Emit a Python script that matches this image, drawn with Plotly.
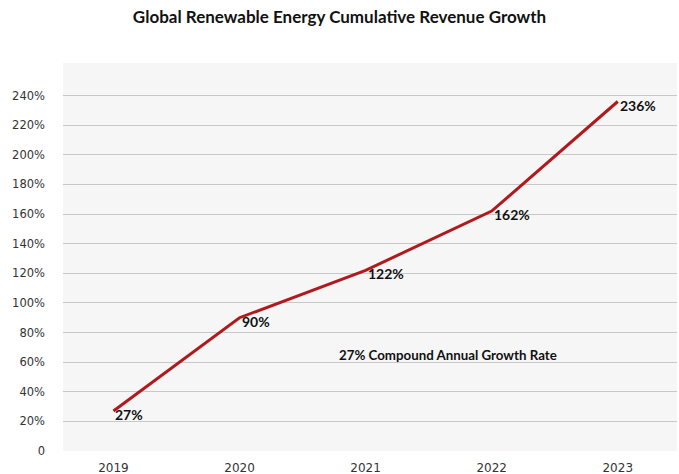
import plotly.graph_objects as go

years = ["2019", "2020", "2021", "2022", "2023"]
growth = [27, 90, 122, 162, 236]
point_labels = ["27%", "90%", "122%", "162%", "236%"]
y_ticks = [0, 20, 40, 60, 80, 100, 120, 140, 160, 180, 200, 220, 240]
y_tick_text = ["0"] + [f"{v}%" for v in y_ticks[1:]]
cagr_text = "27% Compound Annual Growth Rate"

fig = go.Figure()
fig.add_trace(go.Scatter(
    x=list(range(len(years))), y=growth, mode="lines",
    line=dict(color="#b01a1e", width=3), hoverinfo="skip", showlegend=False,
))

for i, (v, t) in enumerate(zip(growth, point_labels)):
    fig.add_annotation(x=i, y=v, text=t, showarrow=False, xanchor="left", yanchor="top",
                       xshift=0, yshift=7,
                       font=dict(family="Lato", size=14, color="#111111", weight="bold"))

fig.add_annotation(x=2.65, y=65, text=cagr_text, showarrow=False,
                   font=dict(family="Lato", size=13.3, color="#111111", weight="bold"))

fig.update_layout(
    width=679, height=474,
    margin=dict(l=63, r=2, t=63, b=23),
    paper_bgcolor="white", plot_bgcolor="#f6f6f6",
    title=dict(text="Global Renewable Energy Cumulative Revenue Growth",
               x=0.5, xanchor="center", y=1 - 17 / 474, yanchor="middle",
               font=dict(family="Lato", size=17, color="#111111", weight="bold")),
    xaxis=dict(tickvals=list(range(len(years))), ticktext=years, range=[-0.4, 4.47],
               showgrid=False, zeroline=False, showline=False, automargin=False,
               ticks="", ticklabelstandoff=8,
               tickfont=dict(family="DejaVu Sans", size=12, color="#333333")),
    yaxis=dict(tickvals=y_ticks, ticktext=y_tick_text, range=[0, 262],
               showgrid=True, gridcolor="#c8c8c8", gridwidth=1, zeroline=False,
               showline=False, automargin=False, ticks="", ticklabelstandoff=17,
               tickfont=dict(family="DejaVu Sans", size=11.5, color="#333333")),
)

fig.write_html("out.html", config={"displayModeBar": False},
               post_script="document.body.style.margin='0';document.body.style.overflow='hidden';")
